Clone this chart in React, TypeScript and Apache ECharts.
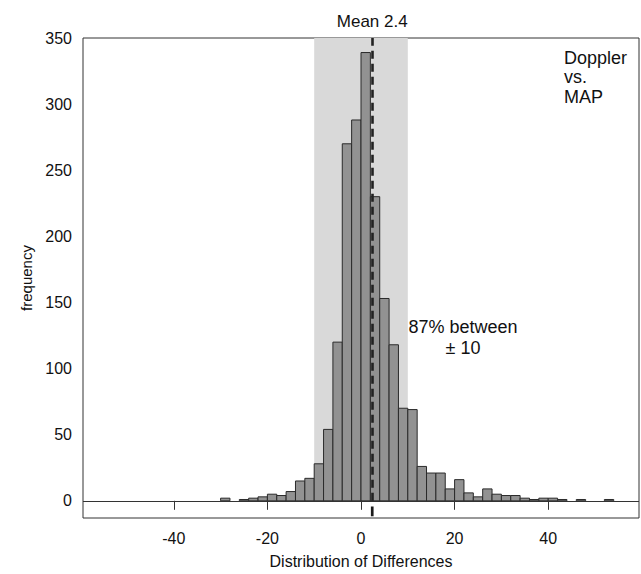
import React, { useEffect, useRef } from "react";
import * as echarts from "echarts";

// Histogram bins (left edge of each 2-unit bin) and their counts
const binStarts = [
  -30, -28, -26, -24, -22, -20, -18, -16, -14, -12, -10, -8, -6, -4, -2, 0, 2, 4, 6, 8, 10,
  12, 14, 16, 18, 20, 22, 24, 26, 28, 30, 32, 34, 36, 38, 40, 42, 44, 46, 48, 50, 52,
];
const counts = [
  2, 0, 1, 2, 3, 5, 4, 7, 15, 17, 28, 54, 120, 270, 288, 339, 230, 153, 118, 70, 69,
  26, 21, 21, 9, 16, 6, 3, 9, 5, 4, 4, 2, 1, 2, 2, 1, 0, 1, 0, 0, 1,
];
const binWidth = 2;
const meanValue = 2.4;
const shadeRange = [-10, 10];
const xTicks = [-40, -20, 0, 20, 40];
const yTicks = [0, 50, 100, 150, 200, 250, 300, 350];
const xRange = [-59.4, 59.4];
const yRange = [-13, 350];

const FONT = "'Liberation Sans', Arial, Helvetica, sans-serif";

export default function App() {
  const ref = useRef<HTMLDivElement>(null);
  useEffect(() => {
    if (!ref.current) return;
    const chart = echarts.init(ref.current, null, { renderer: "svg" });
    const option: any = {
      animation: false,
      textStyle: { fontFamily: FONT },
      grid: {
        left: 83,
        right: 2,
        top: 38,
        bottom: 50.5,
        show: true,
        borderColor: "#333",
        borderWidth: 1,
        backgroundColor: "transparent",
      },
      xAxis: {
        type: "value",
        min: xRange[0],
        max: xRange[1],
        splitLine: { show: false },
        axisLine: { show: false },
        axisTick: { show: true, length: 9, customValues: xTicks, lineStyle: { color: "#333" } },
        axisLabel: { customValues: xTicks, fontSize: 16, color: "#111", margin: 12, fontFamily: FONT },
        name: "Distribution of Differences",
        nameLocation: "middle",
        nameGap: 35,
        nameTextStyle: { fontSize: 16, color: "#111", fontFamily: FONT },
      },
      yAxis: {
        type: "value",
        min: yRange[0],
        max: yRange[1],
        splitLine: { show: false },
        axisLine: { show: false },
        axisTick: { show: true, length: 8, customValues: yTicks, lineStyle: { color: "#333" } },
        axisLabel: { customValues: yTicks, fontSize: 16, color: "#111", margin: 11, fontFamily: FONT },
        name: "frequency",
        nameLocation: "middle",
        nameGap: 43,
        nameTextStyle: { fontSize: 15, color: "#111", fontFamily: FONT },
      },
      series: [
        {
          type: "custom",
          name: "shade",
          z: 1,
          silent: true,
          data: [[shadeRange[0], shadeRange[1], yRange[1]]],
          renderItem: (params: any, api: any) => {
            const p1 = api.coord([api.value(0), api.value(2)]);
            const p2 = api.coord([api.value(1), 0]);
            return {
              type: "rect",
              shape: { x: p1[0], y: p1[1], width: p2[0] - p1[0], height: p2[1] - p1[1] },
              style: { fill: "#d9d9d9" },
            };
          },
        },
        {
          type: "custom",
          name: "histogram",
          z: 2,
          data: binStarts.map((b, i) => [b, counts[i]]),
          renderItem: (params: any, api: any) => {
            const x0 = api.value(0);
            const v = api.value(1);
            if (!v) return null;
            const p1 = api.coord([x0, v]);
            const p2 = api.coord([x0 + binWidth, 0]);
            return {
              type: "rect",
              shape: { x: p1[0], y: p1[1], width: p2[0] - p1[0], height: p2[1] - p1[1] },
              style: { fill: "#929292", stroke: "#2a2a2a", lineWidth: 1 },
            };
          },
          markLine: {
            silent: true,
            symbol: "none",
            animation: false,
            data: [
              {
                yAxis: 0,
                lineStyle: { type: "solid", width: 1, color: "#333" },
                label: { show: false },
              },
            ],
          },
        },
        {
          type: "custom",
          name: "mean",
          z: 5,
          data: [[meanValue]],
          renderItem: (params: any, api: any) => {
            const a = api.coord([api.value(0), -4.3]);
            const b = api.coord([api.value(0), -11.7]);
            return {
              type: "line",
              shape: { x1: a[0], y1: a[1], x2: b[0], y2: b[1] },
              style: { stroke: "#1a1a1a", lineWidth: 2.7 },
            };
          },
          markLine: {
            silent: true,
            symbol: "none",
            animation: false,
            data: [[{ coord: [meanValue, 0] }, { coord: [meanValue, yRange[1]] }]],
            lineStyle: { type: [8, 5], width: 2.6, color: "#222" },
            label: {
              show: true,
              position: "end",
              formatter: "Mean " + meanValue,
              fontSize: 17,
              color: "#111",
              distance: 8,
              fontFamily: FONT,
            },
          },
        },
      ],
      graphic: [
        {
          type: "text",
          x: 564,
          y: 48,
          style: {
            text: "Doppler\nvs.\nMAP",
            fontSize: 18,
            lineHeight: 19.5,
            fill: "#111",
            fontFamily: FONT,
            textAlign: "left",
            textVerticalAlign: "top",
          },
        },
        {
          type: "text",
          x: 463,
          y: 316,
          style: {
            text: "87% between\n± 10",
            fontSize: 18,
            lineHeight: 21,
            fill: "#111",
            fontFamily: FONT,
            textAlign: "center",
            textVerticalAlign: "top",
          },
        },
      ],
    };
    chart.setOption(option);
    return () => chart.dispose();
  }, []);
  return (
    <div
      ref={ref}
      style={{ position: "fixed", left: 0, top: 0, width: 641, height: 574, background: "#fff" }}
    />
  );
}
